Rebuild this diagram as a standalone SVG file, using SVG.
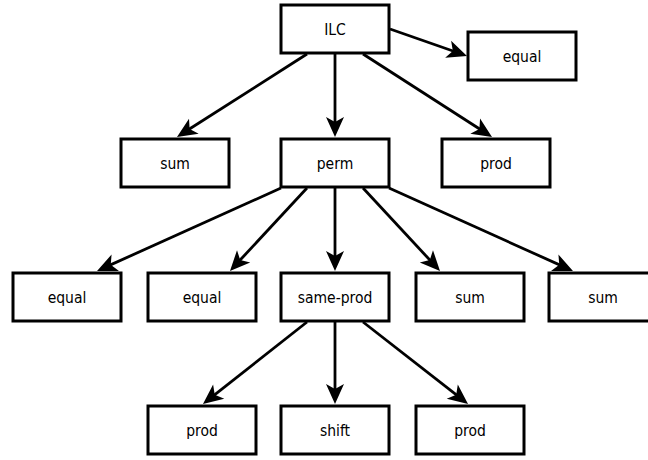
<svg xmlns="http://www.w3.org/2000/svg" width="648" height="460" viewBox="0 0 648 460">
<style>
.box{fill:#fff;stroke:#000;stroke-width:3}
.lbl{font-family:"DejaVu Sans Condensed","DejaVu Sans",Verdana,sans-serif;font-stretch:condensed;font-size:15.5px;fill:#000;text-anchor:middle}
.edge{stroke:#000;stroke-width:2.8;fill:none;marker-end:url(#arr)}
</style>
<defs>
<marker id="arr" markerUnits="userSpaceOnUse" markerWidth="20" markerHeight="18" refX="15" refY="9" orient="auto" overflow="visible">
<path d="M0,0 L20,9 L0,18 L5,9 Z" fill="#000"/>
</marker>
</defs>
<rect width="648" height="460" fill="#fff"/>
<g id="connectors">
<line class="edge" x1="390" y1="29" x2="462.3" y2="54.3"/>
<line class="edge" x1="307" y1="54" x2="181.2" y2="134.3"/>
<line class="edge" x1="335" y1="54" x2="335" y2="132"/>
<line class="edge" x1="363" y1="54" x2="487.8" y2="134.3"/>
<line class="edge" x1="281" y1="188" x2="101.6" y2="268.9"/>
<line class="edge" x1="307" y1="188" x2="233.4" y2="267.3"/>
<line class="edge" x1="335" y1="188" x2="335" y2="266"/>
<line class="edge" x1="363" y1="188" x2="436.6" y2="267.3"/>
<line class="edge" x1="389" y1="188" x2="568.4" y2="268.9"/>
<line class="edge" x1="307" y1="322" x2="206.9" y2="400.9"/>
<line class="edge" x1="335" y1="322" x2="335" y2="399"/>
<line class="edge" x1="363" y1="322" x2="464.1" y2="400.9"/>
</g>
<g id="ilc"><rect class="box" x="281" y="5" width="108" height="48"/><text class="lbl" x="335" y="34.5">ILC</text></g>
<g id="equal0"><rect class="box" x="468" y="32" width="108" height="48"/><text class="lbl" x="522" y="61.5">equal</text></g>
<g id="sum0"><rect class="box" x="121" y="139" width="108" height="48"/><text class="lbl" x="175" y="168.5">sum</text></g>
<g id="perm"><rect class="box" x="281" y="139" width="108" height="48"/><text class="lbl" x="335" y="168.5">perm</text></g>
<g id="prod0"><rect class="box" x="442" y="139" width="108" height="48"/><text class="lbl" x="496" y="168.5">prod</text></g>
<g id="equal1"><rect class="box" x="13" y="273" width="108" height="48"/><text class="lbl" x="67" y="302.5">equal</text></g>
<g id="equal2"><rect class="box" x="148" y="273" width="108" height="48"/><text class="lbl" x="202" y="302.5">equal</text></g>
<g id="sameprod"><rect class="box" x="281" y="273" width="108" height="48"/><text class="lbl" x="335" y="302.5">same-prod</text></g>
<g id="sum1"><rect class="box" x="416" y="273" width="108" height="48"/><text class="lbl" x="470" y="302.5">sum</text></g>
<g id="sum2"><rect class="box" x="549" y="273" width="108" height="48"/><text class="lbl" x="603" y="302.5">sum</text></g>
<g id="prod1"><rect class="box" x="148" y="406" width="108" height="48"/><text class="lbl" x="202" y="435.5">prod</text></g>
<g id="shift"><rect class="box" x="281" y="406" width="108" height="48"/><text class="lbl" x="335" y="435.5">shift</text></g>
<g id="prod2"><rect class="box" x="416" y="406" width="108" height="48"/><text class="lbl" x="470" y="435.5">prod</text></g>
</svg>
